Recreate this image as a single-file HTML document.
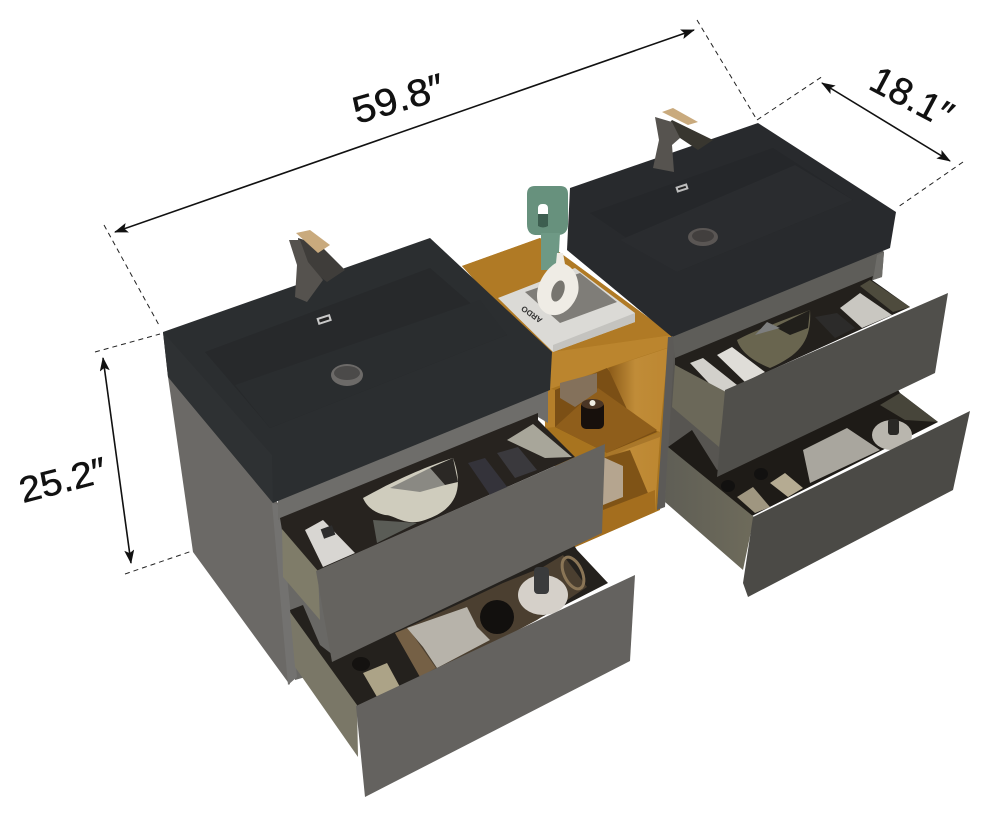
<!DOCTYPE html>
<html><head><meta charset="utf-8"><style>html,body{margin:0;padding:0;background:#fff}svg{display:block}text{font-family:"Liberation Sans",sans-serif;fill:#111;stroke:#111;stroke-width:.5}</style></head><body>
<svg width="990" height="816" viewBox="0 0 990 816" xmlns="http://www.w3.org/2000/svg">
<defs>
<marker id="a" viewBox="0 0 14 10" refX="13" refY="5" markerWidth="14" markerHeight="10" markerUnits="userSpaceOnUse" orient="auto-start-reverse"><path d="M0 0L14 5L0 10L3 5Z" fill="#111"/></marker>
<linearGradient id="wl" x1="0" y1="0" x2="1" y2="0"><stop offset="0" stop-color="#8a5a18"/><stop offset=".45" stop-color="#c08c38"/><stop offset="1" stop-color="#bd8731"/></linearGradient>
<linearGradient id="sd" x1="0" y1="0" x2="1" y2="0"><stop offset="0" stop-color="#5f5e55"/><stop offset="1" stop-color="#6e6b5b"/></linearGradient>
</defs>
<!-- wood unit -->
<polygon points="462,266 540,238 672,335 660,510 573,548 540,400 540,353" fill="#a8741f"/>
<polygon points="462,266 540,238 672,335 545,353" fill="#b07a25"/>
<polygon points="545,353 672,335 670,347 610,367 545,391" fill="#bb852e"/>
<polygon points="545,387 555,390 555,427 545,428" fill="#b57f2a"/>
<polygon points="555,390 607,368 657,432 607,453 555,427" fill="#7b4f15"/>
<polygon points="608,368 668,348 660,432 632,420" fill="url(#wl)"/>
<polygon points="555,427 598,388 657,430 607,453" fill="#8f5e1b"/>
<polygon points="607,453 660,432 660,438 607,458" fill="#a9772a"/>
<polygon points="603,458 660,437 655,510 627,470" fill="url(#wl)"/>
<polygon points="603,458 630,450 655,510 603,533" fill="#7f5316"/>
<polygon points="603,510 655,490 655,512 573,548 590,530" fill="#a46e1e"/>
<polygon points="603,457 623,466 623,497 603,505" fill="#b5a58f"/>
<polygon points="560,383 597,373 597,392 575,407 560,398" fill="#84715b"/>
<rect x="581" y="401" width="23" height="28" rx="5" fill="#17100c"/><ellipse cx="592.500" cy="404" rx="11" ry="5" fill="#4a3525"/><circle cx="592.500" cy="403" r="3" fill="#f0eee4"/>
<!-- book -->
<polygon points="498,298 575,268 635,313 635,322 553,352" fill="#dbdad6"/>
<polygon points="553,345 635,313 635,322 553,352" fill="#c4c3bf"/>
<polygon points="525,292 580,273 617,302 560,323" fill="#7f7d78"/>
<text x="0" y="0" font-size="8" transform="translate(543,319) rotate(215)" style="fill:#333;stroke:none;font-weight:bold">ARDO</text>
<!-- vase green -->
<path d="M527 194q0-8 8-8h25q8 0 8 8v30q0 10-9 11h-24q-8-1-8-11Z" fill="#67917d"/>
<path d="M541 233h19l-2 37h-17Z" fill="#6e9985"/>
<rect x="538" y="204" width="10" height="22" rx="4" fill="#fff"/>
<path d="M538 214h10v12q-5 3-10 0Z" fill="#3d5e50"/>
<!-- vase white -->
<path d="M557 253h6l2 11c12 5 15 20 13 29-3 11-12 21-22 22-11 1-19-7-19-19 0-14 10-28 19-33Z" fill="#efece5"/>
<ellipse cx="558" cy="291" rx="6" ry="11" fill="#77756f" transform="rotate(20 558 291)"/>
<!-- left cabinet -->
<polygon points="168,377 278,503 290,685 193,552" fill="#6b6966"/>
<polygon points="278,500 325,500 337,668 295,680" fill="#696865"/>
<polygon points="272,503 280,505 297,677 288,685" fill="#737270"/>
<polygon points="278,490 538,385 548,385 548,423 538,417 278,520" fill="#6e6d6a"/>
<!-- left drawer 2 -->
<polygon points="290,610 303,605 320,645 333,655 572,542 577,550 608,583 360,710 292,622" fill="#24211d"/>
<polygon points="395,633 463,602 503,583 543,567 563,555 587,587 537,620 430,677 420,677" fill="#4b3f30"/>
<polygon points="395,633 408,628 436,668 420,677" fill="#756045"/>
<polygon points="407,628 467,607 477,627 490,640 437,668 423,647" fill="#b7b3aa"/>
<circle cx="497" cy="617" r="17" fill="#12100e"/>
<ellipse cx="573" cy="573" rx="9" ry="17" fill="none" stroke="#8a7556" stroke-width="3" transform="rotate(-25 573 573)"/>
<ellipse cx="543" cy="595" rx="25" ry="20" fill="#d5d0c9"/>
<rect x="534" y="567" width="15" height="27" rx="4" fill="#3a3b3c"/>
<polygon points="363,673 387,663 400,687 377,697" fill="#aca387"/>
<ellipse cx="361" cy="664" rx="9" ry="7" fill="#141210"/>
<polygon points="290,612 357,705 358,757 295,667" fill="#7a7767"/>
<polygon points="356,706 635,575 630,661 365,797" fill="#64625f"/>
<!-- left drawer 1 -->
<polygon points="282,530 280,518 538,413 538,420 575,457 317,571" fill="#27231f"/>
<polygon points="507,440 533,424 572,457 545,458" fill="#a8a69a"/>
<path d="M363 498C395 480 430 465 453 458C465 490 455 510 425 520C405 527 395 515 385 515C372 512 366 505 363 498Z" fill="#cfccbd"/>
<polygon points="390,488 430,468 445,485 420,492 405,490" fill="#8a8983"/>
<polygon points="430,468 453,458 458,482 445,485" fill="#2b2825"/>
<polygon points="468,463 485,458 508,488 490,495" fill="#34333a"/>
<polygon points="497,453 518,447 537,470 515,478" fill="#3a393d"/>
<polygon points="373,520 417,523 377,543" fill="#5a5c56"/>
<polygon points="305,530 323,520 355,553 323,567" fill="#d8d6d2"/>
<rect x="322" y="527" width="12" height="10" fill="#2d2d2d" transform="rotate(-20 328 532)"/>
<polygon points="282,529 318,571 320,620 283,577" fill="#7f7c69"/>
<polygon points="316,571 605,444 602,533 332,662" fill="#65635f"/>
<!-- left sink -->
<path d="M163 332L430 238L552 352L550 390L273 503L168 377Z" fill="#2b2e30"/>
<polygon points="163,332 272,455 273,503 168,377" fill="#2e3133"/>
<polygon points="205,352 430,268 507,335 473,348 270,428" fill="#27292b"/>
<polygon points="235,385 480,300 507,335 473,348 270,428" fill="#2a2d2f"/>
<ellipse cx="347" cy="375" rx="16" ry="11" fill="#6c6a68"/><ellipse cx="347" cy="373" rx="13" ry="7" fill="#4b4a49"/>
<rect x="317" y="316" width="14" height="7" fill="#c8c8c8" transform="rotate(-18 324 319)"/><rect x="319" y="318" width="10" height="3" fill="#222" transform="rotate(-18 324 319)"/>
<!-- left faucet -->
<polygon points="298,238 320,245 345,270 327,282 300,262" fill="#3f3d3a"/>
<polygon points="289,240 300,240 308,262 323,280 307,302 295,297 297,265" fill="#55524e"/>
<polygon points="296,233 310,230 330,245 318,253" fill="#c9aa7d"/>
<!-- right cabinet -->
<polygon points="670,337 730,340 745,480 668,480 657,510" fill="#575551"/>
<polygon points="668,337 675,337 665,507 657,510" fill="#5c5a57"/>
<polygon points="672,325 877,245 884,252 882,277 873,280 675,362" fill="#5e5d59"/>
<polygon points="877,255 884,252 882,277 873,280" fill="#6d6c68"/>
<!-- right drawer 2 -->
<polygon points="668,447 692,430 717,470 895,385 900,393 938,422 750,517" fill="#1e1b17"/>
<polygon points="900,393 938,422 905,420 880,405" fill="#47453a"/>
<polygon points="803,450 847,428 880,450 810,483" fill="#a9a69e"/>
<ellipse cx="892" cy="435" rx="20" ry="15" fill="#b9b6ae"/>
<rect x="888" y="419" width="11" height="16" rx="3" fill="#2a2926"/>
<polygon points="737,497 753,487 770,507 755,513" fill="#9f9680"/>
<polygon points="770,483 785,473 803,488 788,497" fill="#b5ab92"/>
<ellipse cx="728" cy="486" rx="7" ry="6" fill="#121110"/><ellipse cx="761" cy="474" rx="7" ry="6" fill="#121110"/>
<polygon points="668,447 754,517 743,570 665,502" fill="url(#sd)"/>
<polygon points="753,517 970,411 953,490 748,597 743,583" fill="#4b4a46"/>
<!-- right drawer 1 -->
<polygon points="675,358 873,276 872,280 910,307 723,392 675,365" fill="#23201c"/>
<polygon points="860,286 870,280 910,307 893,312" fill="#4e4b3d"/>
<path d="M737 340C755 330 790 318 810 310C812 340 800 355 770 368C750 360 740 350 737 340Z" fill="#69654f"/>
<polygon points="775,327 810,310 808,328 790,335" fill="#211f1b"/>
<polygon points="767,322 780,328 755,335" fill="#7d7e7e"/>
<polygon points="690,363 703,358 737,385 722,397" fill="#d2d0cb"/>
<polygon points="717,355 732,347 765,372 745,382" fill="#dfddd8"/>
<polygon points="840,308 860,293 892,315 862,328" fill="#c9c7c1"/>
<polygon points="815,317 837,313 855,328 835,338" fill="#2c2b2a"/>
<polygon points="675,365 726,392 719,447 672,407" fill="#6b6859"/>
<polygon points="725,390 948,293 935,373 717,477" fill="#504f4b"/>
<!-- right sink -->
<path d="M570 188L758 123L896 212L890 248L672 337L567 250Z" fill="#282a2d"/>
<polygon points="590,213 773,148 853,200 677,272" fill="#25272a"/>
<polygon points="620,240 795,165 853,200 677,272" fill="#2a2c2f"/>
<ellipse cx="703" cy="237" rx="15" ry="9" fill="#5a5654"/><ellipse cx="703" cy="236" rx="11" ry="6" fill="#423f3e"/>
<rect x="676" y="185" width="12" height="6" fill="#bcbcbc" transform="rotate(-18 682 188)"/><rect x="678" y="187" width="8" height="2" fill="#222" transform="rotate(-18 682 188)"/>
<!-- right faucet -->
<polygon points="672,120 713,140 698,150 665,128" fill="#38362f"/>
<polygon points="655,117 672,122 680,138 672,145 674,172 653,168 659,140" fill="#56534f"/>
<polygon points="662,112 673,108 698,122 688,125" fill="#c9aa7d"/>
<!-- dimensions -->
<g fill="none" stroke="#111" stroke-width="1.6">
<line x1="115" y1="232" x2="694" y2="30" marker-start="url(#a)" marker-end="url(#a)"/>
<line x1="822" y1="83" x2="950" y2="161" marker-start="url(#a)" marker-end="url(#a)"/>
<line x1="103" y1="358" x2="131" y2="563" marker-start="url(#a)" marker-end="url(#a)"/>
</g>
<g fill="none" stroke="#222" stroke-width="1" stroke-dasharray="5 4">
<line x1="104" y1="225" x2="160" y2="327"/>
<line x1="697" y1="20" x2="757" y2="120"/>
<line x1="757" y1="120" x2="823" y2="76"/>
<line x1="963" y1="162" x2="898" y2="207"/>
<line x1="95" y1="352" x2="160" y2="334"/>
<line x1="125" y1="574" x2="192" y2="551"/>
</g>
<text font-size="38" transform="translate(357,124) rotate(-16) scale(1.07,1)">59.8″</text>
<text font-size="38" transform="translate(867,88) rotate(28)">18.1″</text>
<text font-size="36" transform="translate(23,503) rotate(-14.500) scale(1.07,1)">25.2″</text>
</svg>
</body></html>
